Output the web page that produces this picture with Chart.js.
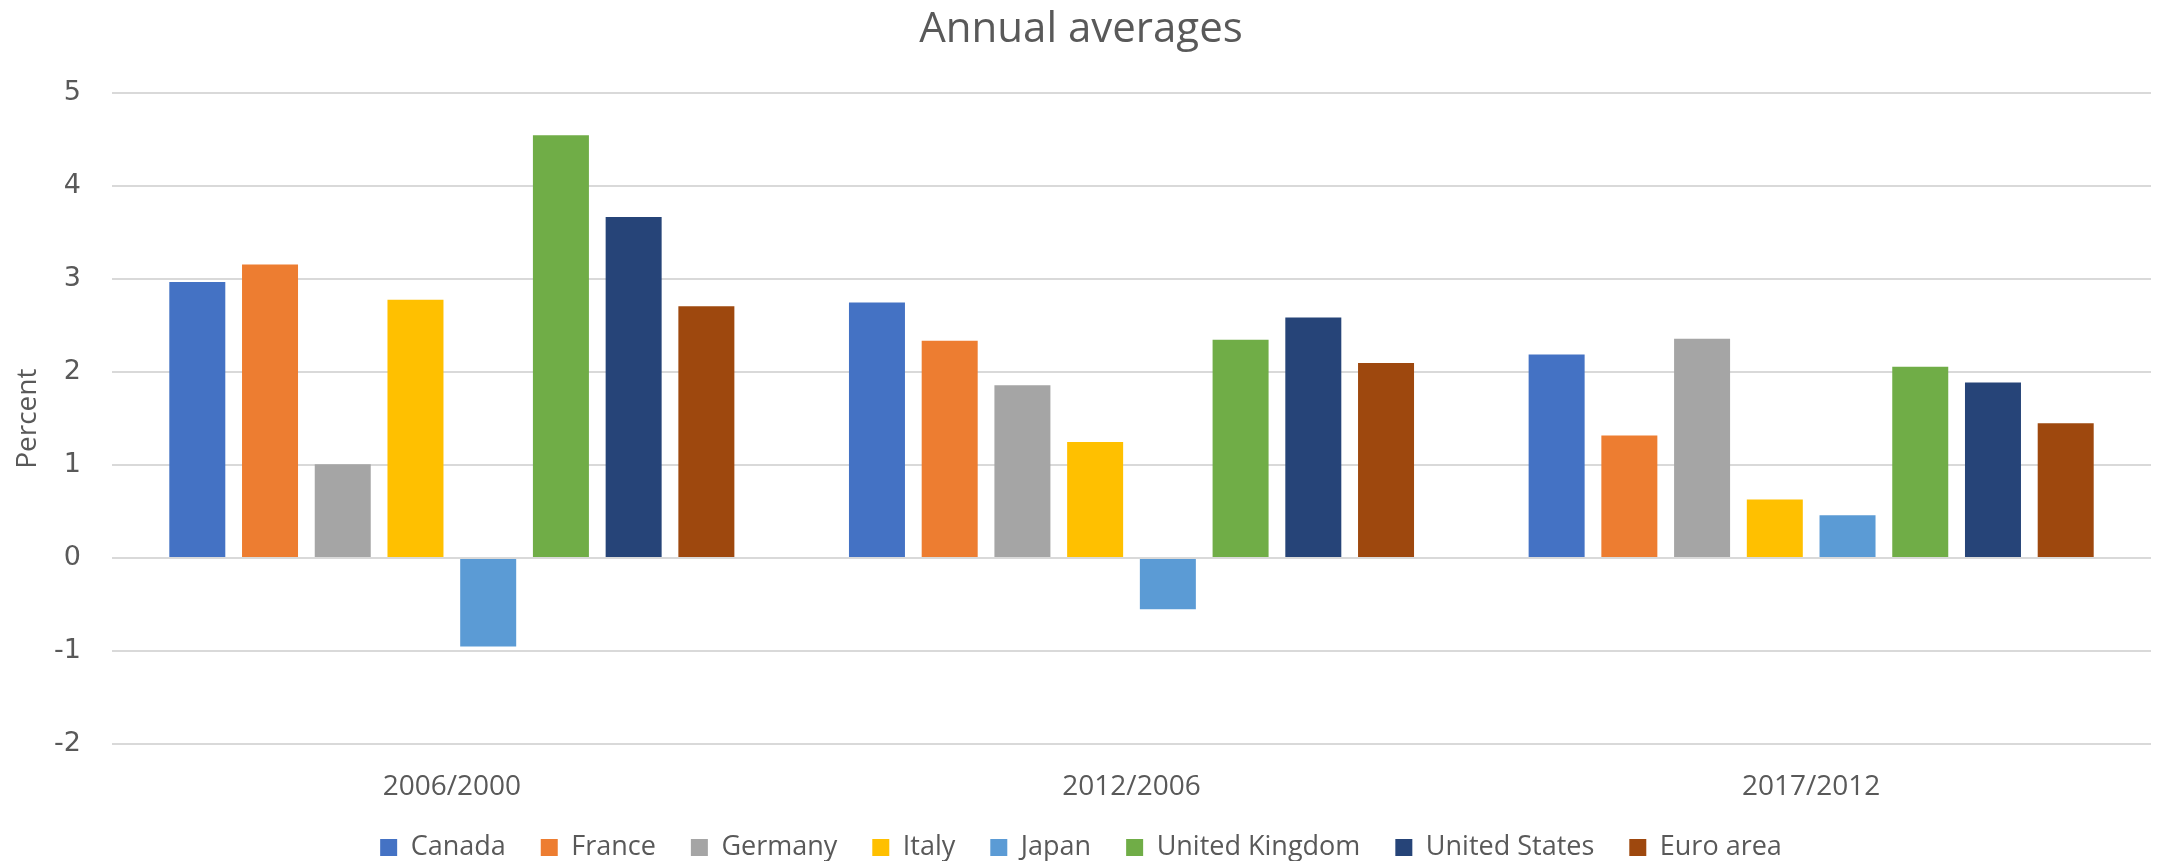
<!DOCTYPE html>
<html>
<head>
<meta charset="utf-8">
<script src="https://cdn.jsdelivr.net/npm/chart.js@4"></script>
<style>
  html, body { margin: 0; padding: 0; background: #fff; }
  #wrap { width: 2159px; height: 861px; }
</style>
</head>
<body>
<div id="wrap"><canvas id="myChart" width="2159" height="861"></canvas></div>
<script>
const periods = ['2006/2000', '2012/2006', '2017/2012'];
const countries = ['Canada', 'France', 'Germany', 'Italy', 'Japan', 'United Kingdom', 'United States', 'Euro area'];

const canada = [2.97, 2.75, 2.19];
const france = [3.16, 2.34, 1.32];
const germany = [1.01, 1.86, 2.36];
const italy = [2.78, 1.25, 0.63];
const japan = [-0.95, -0.55, 0.46];
const unitedKingdom = [4.55, 2.35, 2.06];
const unitedStates = [3.67, 2.59, 1.89];
const euroArea = [2.71, 2.10, 1.45];

const yTicks = [-2, -1, 0, 1, 2, 3, 4, 5];

const seriesValues = [canada, france, germany, italy, japan, unitedKingdom, unitedStates, euroArea];
const colors = ['#4472C4', '#ED7D31', '#A5A5A5', '#FFC000', '#5B9BD5', '#70AD47', '#264478', '#9E480E'];

const textColor = '#595959';
const sansFont = "'Open Sans', sans-serif";

const ctx = document.getElementById('myChart').getContext('2d');
let myChart = new Chart(ctx, {
    type: 'bar',
    data: {
        labels: periods,
        datasets: countries.map((name, i) => ({
            label: name,
            data: seriesValues[i],
            backgroundColor: colors[i],
            borderWidth: 0,
            categoryPercentage: 0.856,
            barPercentage: 0.77
        }))
    },
    options: {
        responsive: false,
        animation: false,
        layout: {
            padding: { top: 0, left: 11, right: 8, bottom: -10 }
        },
        scales: {
            x: {
                grid: { display: false, drawTicks: false },
                border: { display: false },
                ticks: {
                    color: textColor,
                    padding: 26,
                    font: { family: sansFont, size: 28 }
                },
                // keep the gap down to the legend as tight as in the original
                afterFit: axis => { axis.height = 55; }
            },
            y: {
                min: -2,
                max: 5,
                afterBuildTicks: axis => {
                    axis.ticks = yTicks.map(v => ({ value: v }));
                },
                afterFit: axis => { axis.width = 101; },
                grid: {
                    color: '#D9D9D9',
                    lineWidth: 2,
                    drawTicks: false
                },
                border: { display: false },
                ticks: {
                    color: textColor,
                    padding: 31,
                    font: { family: "'DejaVu Sans', sans-serif", size: 27 }
                },
                title: {
                    display: true,
                    text: 'Percent',
                    color: textColor,
                    padding: { top: 0, bottom: 0 },
                    font: { family: sansFont, size: 28 }
                }
            }
        },
        plugins: {
            title: {
                display: true,
                text: 'Annual averages',
                color: textColor,
                padding: { top: 5, bottom: 38 },
                font: { family: sansFont, size: 42, weight: 'normal', lineHeight: 1.2 }
            },
            legend: {
                position: 'bottom',
                labels: {
                    color: textColor,
                    boxWidth: 17,
                    boxHeight: 17,
                    padding: 35,
                    font: { family: sansFont, size: 27 }
                }
            },
            tooltip: { enabled: false }
        }
    }
});
</script>
</body>
</html>
